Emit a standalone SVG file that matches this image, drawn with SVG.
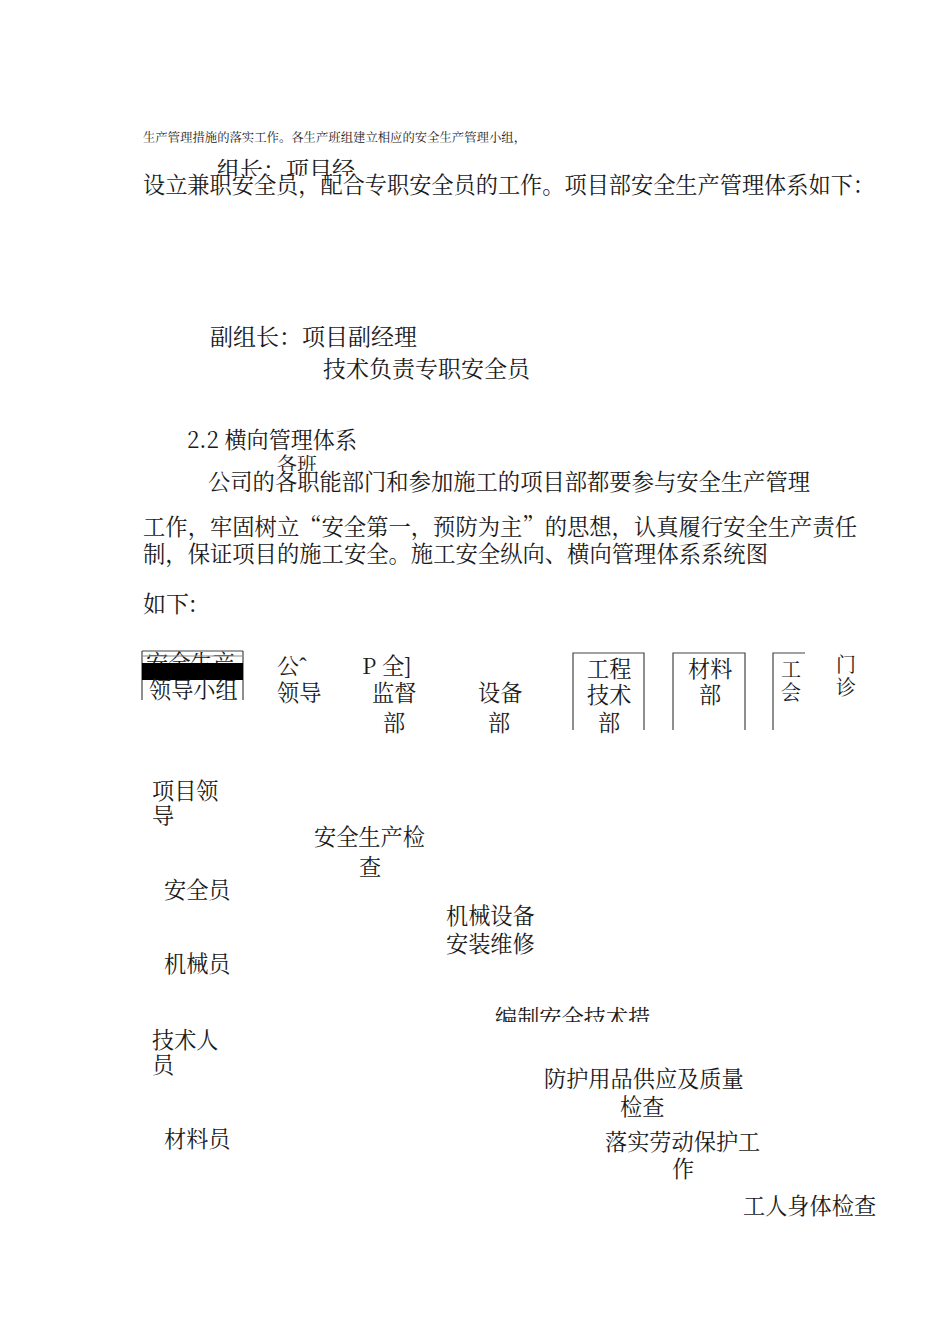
<svg xmlns="http://www.w3.org/2000/svg" width="950" height="1344" viewBox="0 0 950 1344">
<style>
text{font-family:"Noto Serif CJK SC","Noto Sans CJK SC","Liberation Serif",serif;fill:#1a1a1a;}
.s{font-size:12.3px;}
.p{font-size:23px;}
.n{font-size:22.2px;}
.h{font-size:20px;}
.b{fill:none;stroke:#444;stroke-width:1.2;}
</style>
<defs>
<clipPath id="c1"><rect x="200" y="150" width="200" height="26"/></clipPath>
<clipPath id="c2"><rect x="260" y="450" width="100" height="21"/></clipPath>
<clipPath id="c3"><rect x="480" y="1000" width="250" height="22"/></clipPath>
<clipPath id="c4"><rect x="142" y="650" width="100" height="13"/></clipPath>
</defs>
<rect width="950" height="1344" fill="#fff"/>
<g id="text-body">
<text class="s" x="143" y="142" textLength="383" lengthAdjust="spacingAndGlyphs">生产管理措施的落实工作。各生产班组建立相应的安全生产管理小组，</text>
<text class="p" x="217" y="178" clip-path="url(#c1)">组长：项目经</text>
<text class="p" x="143" y="193" textLength="732" lengthAdjust="spacingAndGlyphs">设立兼职安全员，配合专职安全员的工作。项目部安全生产管理体系如下：</text>
<text class="p" x="210" y="345">副组长：项目副经理</text>
<text class="p" x="323" y="377">技术负责专职安全员</text>
<text class="p" x="187" y="448" textLength="170" lengthAdjust="spacingAndGlyphs">2.2 横向管理体系</text>
<text class="h" x="277" y="472" clip-path="url(#c2)">各班</text>
<text class="p" x="208" y="490" textLength="602" lengthAdjust="spacingAndGlyphs">公司的各职能部门和参加施工的项目部都要参与安全生产管理</text>
<text class="p" x="143" y="535" textLength="714" lengthAdjust="spacingAndGlyphs">工作，牢固树立“安全第一，预防为主”的思想，认真履行安全生产责任</text>
<text class="p" x="143" y="562" textLength="625" lengthAdjust="spacingAndGlyphs">制，保证项目的施工安全。施工安全纵向、横向管理体系系统图</text>
<text class="p" x="143" y="612">如下:</text>
</g>
<g id="n-leader-group">
<line class="b" x1="142" y1="651" x2="243" y2="651"/>
<line class="b" x1="142" y1="651" x2="142" y2="700"/>
<line class="b" x1="243" y1="651" x2="243" y2="700"/>
<text class="n" x="146" y="671" clip-path="url(#c4)">安全生产</text>
<line x1="142" y1="656" x2="243" y2="656" stroke="#888" stroke-width="1"/>
<rect x="142" y="663" width="101" height="17" fill="#000"/>
<text class="n" x="149" y="698">领导小组</text>
</g>
<g id="n-company-leader">
<text class="n" x="277" y="674">公ˆ</text>
<text class="n" x="277" y="701">领导</text>
</g>
<g id="n-supervision">
<text class="n" x="362" y="674">P 全]</text>
<text class="n" x="372" y="701">监督</text>
<text class="n" x="383" y="731">部</text>
</g>
<g id="n-equipment">
<text class="n" x="478" y="701">设备</text>
<text class="n" x="488" y="731">部</text>
</g>
<g id="n-engineering">
<polyline class="b" points="573,730 573,653 644,653 644,730"/>
<text class="n" x="587" y="677">工程</text>
<text class="n" x="587" y="703">技术</text>
<text class="n" x="598" y="731">部</text>
</g>
<g id="n-material-dept">
<polyline class="b" points="673,730 673,653 745,653 745,730"/>
<text class="n" x="688" y="677">材料</text>
<text class="n" x="699" y="703">部</text>
</g>
<g id="n-union">
<polyline class="b" points="773,730 773,653 805,653"/>
<text class="h" x="781" y="677">工</text>
<text class="h" x="781" y="700">会</text>
</g>
<g id="n-clinic">
<text class="h" x="836" y="672">门</text>
<text class="h" x="836" y="695">诊</text>
</g>
<g id="n-project-leader">
<text class="n" x="152" y="799">项目领</text>
<text class="n" x="152" y="824">导</text>
</g>
<g id="n-safety-check">
<text class="n" x="314" y="845">安全生产检</text>
<text class="n" x="359" y="875">查</text>
</g>
<g id="n-safety-officer">
<text class="n" x="164" y="898">安全员</text>
</g>
<g id="n-mech-install">
<text class="n" x="446" y="924">机械设备</text>
<text class="n" x="446" y="952">安装维修</text>
</g>
<g id="n-mechanic">
<text class="n" x="164" y="972">机械员</text>
</g>
<g id="n-tech-measures">
<text class="n" x="495" y="1026" clip-path="url(#c3)">编制安全技术措</text>
</g>
<g id="n-tech-staff">
<text class="n" x="152" y="1048">技术人</text>
<text class="n" x="152" y="1073">员</text>
</g>
<g id="n-protective">
<text class="n" x="544" y="1087">防护用品供应及质量</text>
<text class="n" x="620" y="1115">检查</text>
</g>
<g id="n-material-staff">
<text class="n" x="164" y="1147">材料员</text>
</g>
<g id="n-labor-protect">
<text class="n" x="605" y="1150">落实劳动保护工</text>
<text class="n" x="672" y="1177">作</text>
</g>
<g id="n-health-check">
<text class="n" x="743" y="1214">工人身体检查</text>
</g>
<g id="connectors"></g>
</svg>
